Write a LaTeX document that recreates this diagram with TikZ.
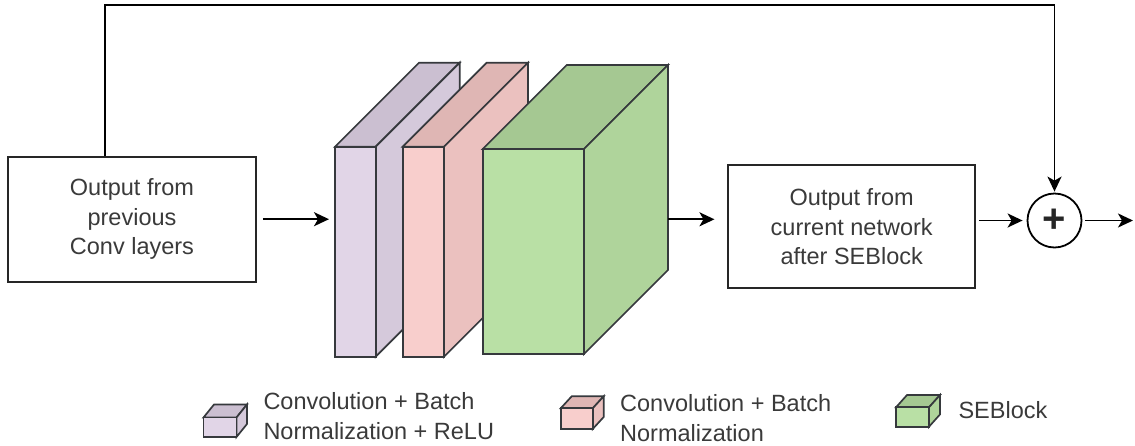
\documentclass[tikz,border=0pt]{standalone}
\usepackage{fontspec}
\setmainfont{Liberation Sans}
\usetikzlibrary{arrows.meta}

\definecolor{txt}{HTML}{3A3A3A}
\definecolor{edge}{HTML}{36393D}
\definecolor{purpF}{HTML}{E1D5E7}
\definecolor{purpS}{HTML}{D5C9DB}
\definecolor{purpT}{HTML}{CBBFD1}
\definecolor{pinkF}{HTML}{F8CECC}
\definecolor{pinkS}{HTML}{EBC1BF}
\definecolor{pinkT}{HTML}{DFB6B4}
\definecolor{grnF}{HTML}{B9E0A5}
\definecolor{grnS}{HTML}{AFD49B}
\definecolor{grnT}{HTML}{A5C892}

% cube: x, y of front top-left, width, height, depth dx, depth dy, front, side, top colours
\newcommand{\blockcube}[9]{%
  \filldraw[cubeline, fill=#9] (#1,#2) -- ({#1+#5},{#2-#6}) -- ({#1+#3+#5},{#2-#6}) -- ({#1+#3},#2) -- cycle;
  \filldraw[cubeline, fill=#8] ({#1+#3},#2) -- ({#1+#3+#5},{#2-#6}) -- ({#1+#3+#5},{#2+#4-#6}) -- ({#1+#3},{#2+#4}) -- cycle;
  \filldraw[cubeline, fill=#7] (#1,#2) rectangle ({#1+#3},{#2+#4});
}

\tikzset{
  cubeline/.style={draw=edge, line width=1.7pt, line join=miter},
  textbox/.style={draw=black!85, line width=1.8pt, rectangle, align=center,
    text=txt, font=\fontsize{23.5}{29.5}\selectfont, inner sep=0pt},
  legendtext/.style={anchor=west, align=left, text=txt,
    font=\fontsize{23.5}{30}\selectfont, inner sep=0pt},
  link/.style={draw=black, line width=1.9pt},
  flow/.style={link, -{Stealth[length=15pt, width=14pt, inset=4pt]}},
}

\begin{document}
\begin{tikzpicture}[x=1pt, y=-1pt]
\useasboundingbox (0,0) rectangle (1135,445);

% input and output boxes
\node[textbox, minimum width=248pt, minimum height=125pt] (inbox) at (132,219.2)
  {Output from\\previous\\Conv layers};
\node[textbox, minimum width=246.7pt, minimum height=123.3pt] (outbox) at (851.7,226.7)
  {Output from\\current network\\after SEBlock};

% summation node
\node[circle, draw=black, line width=1.8pt, minimum size=54pt, inner sep=0pt,
  font=\bfseries\fontsize{40}{40}\selectfont, text=black!85] (sum) at (1054.5,220.5) {+};

% layer blocks
\blockcube{335}{146.7}{40.7}{210}{84}{84}{purpF}{purpS}{purpT}
\blockcube{402.7}{146.7}{41.3}{210}{84}{84}{pinkF}{pinkS}{pinkT}
\blockcube{482.7}{149}{101.3}{205}{84}{84}{grnF}{grnS}{grnT}

\coordinate (convin) at (335,219.2);
\coordinate (seout) at (668,219.3);
\coordinate (skiptop) at (105,5);
\coordinate (result) at (1133,220.5);

% connectors
\draw[flow, shorten <=6pt, shorten >=6pt] (inbox.east) -- (convin);
\draw[flow, shorten >=13pt] (seout) -- (seout -| outbox.west);
\draw[flow, shorten <=3pt, shorten >=4pt] (outbox.east |- sum.west) -- (sum.west);
\draw[flow, shorten <=3pt] (sum.east) -- (result);
\draw[flow, shorten >=1pt] (inbox.north -| skiptop) -- (skiptop) -| (sum.north);

% legend
\blockcube{203.5}{417.5}{33}{19.5}{10.5}{13}{purpF}{purpS}{purpT}
\node[legendtext] (lgconv) at (263.3,416) {Convolution + Batch\\Normalization + ReLU};
\blockcube{560.7}{408.3}{32}{20.7}{11}{12}{pinkF}{pinkS}{pinkT}
\node[legendtext] (lgbn) at (620,418) {Convolution + Batch\\Normalization};
\blockcube{896}{407.3}{33}{19.4}{11}{12.3}{grnF}{grnS}{grnT}
\node[legendtext] (lgse) at (958.3,410) {SEBlock};
\end{tikzpicture}
\end{document}
